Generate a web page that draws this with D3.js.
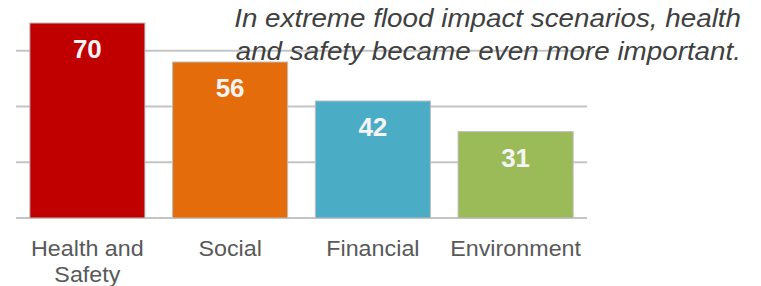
<!DOCTYPE html>
<html>
<head>
<meta charset="utf-8">
<script src="https://cdn.jsdelivr.net/npm/d3@7"></script>
<style>
  body { margin: 0; background: #fff; }
  svg { display: block; font-family: Arial, "Liberation Sans", sans-serif; }
</style>
</head>
<body>
<svg id="chart" width="761" height="286"></svg>
<script>
var categories = [["Health and", "Safety"], ["Social"], ["Financial"], ["Environment"]];
var values = [70, 56, 42, 31];
var colors = ["#c00000", "#e46c0a", "#4bacc6", "#9bbb59"];
var gridTicks = [0, 20, 40, 60];
var titleLines = ["In extreme flood impact scenarios, health", "and safety became even more important."];

var svg = d3.select("#chart");

var x = d3.scaleBand()
    .domain(d3.range(values.length))
    .range([16, 587])
    .paddingInner(0.194)
    .paddingOuter(0.097);

var y = d3.scaleLinear()
    .domain([0, 70])
    .range([218, 23]);

// gridlines
svg.selectAll(".grid")
    .data(gridTicks)
    .enter().append("line")
    .attr("x1", 16)
    .attr("x2", 587)
    .attr("y1", function(d) { return y(d); })
    .attr("y2", function(d) { return y(d); })
    .attr("stroke", "#c4c4c4")
    .attr("stroke-width", 2);

// bars
svg.selectAll(".bar")
    .data(values)
    .enter().append("rect")
    .attr("x", function(d, i) { return x(i); })
    .attr("width", x.bandwidth())
    .attr("y", function(d) { return y(d); })
    .attr("height", function(d) { return y(0) - y(d); })
    .attr("fill", function(d, i) { return colors[i]; })
    .attr("stroke", "#bdbdbd")
    .attr("stroke-width", 1);

// value labels
svg.selectAll(".val")
    .data(values)
    .enter().append("text")
    .attr("x", function(d, i) { return x(i) + x.bandwidth() / 2; })
    .attr("y", function(d) { return y(d) + 35; })
    .attr("text-anchor", "middle")
    .attr("fill", "#f4f4f4")
    .style("font-size", "26px")
    .style("font-weight", "bold")
    .text(function(d) { return d; });

// category labels
var cat = svg.selectAll(".cat")
    .data(categories)
    .enter().append("text")
    .attr("text-anchor", "middle")
    .attr("fill", "#595959")
    .style("font-size", "22px")
    .attr("transform", function(d, i) {
        return "translate(" + (x(i) + x.bandwidth() / 2) + ",256) scale(1.06,1)";
    });
cat.selectAll("tspan")
    .data(function(d) { return d; })
    .enter().append("tspan")
    .attr("x", 0)
    .attr("dy", function(d, i) { return i ? 26 : 0; })
    .text(function(d) { return d; });

// title
svg.selectAll(".title")
    .data(titleLines)
    .enter().append("text")
    .attr("text-anchor", "end")
    .attr("fill", "#404040")
    .style("font-size", "26px")
    .style("font-style", "italic")
    .attr("transform", function(d, i) {
        return "translate(741," + (27 + i * 33) + ") scale(1.07,1)";
    })
    .text(function(d) { return d; });
</script>
</body>
</html>
